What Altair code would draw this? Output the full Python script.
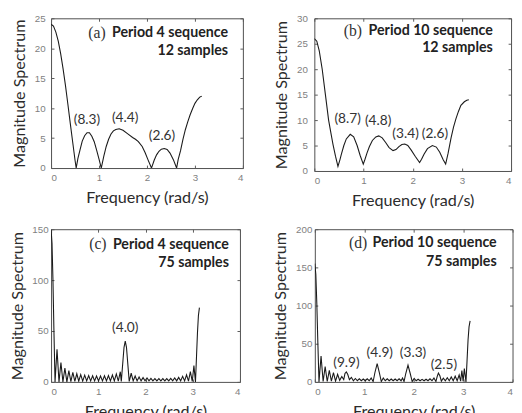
import altair as alt
import pandas as pd

# ---------------- data ----------------
x_ticks = [0, 1, 2, 3, 4]

# (a) Period 4 sequence, 12 samples
a_freq = [0, 0.05, 0.1, 0.15, 0.2, 0.25, 0.3, 0.35, 0.4, 0.45, 0.5, 0.524,
          0.56, 0.6, 0.65, 0.7, 0.75, 0.8, 0.85, 0.9, 0.95, 1.0, 1.047,
          1.1, 1.15, 1.2, 1.25, 1.3, 1.35, 1.42, 1.5, 1.6, 1.7, 1.76, 1.82, 1.9, 1.96, 2.02, 2.094,
          2.15, 2.2, 2.25, 2.3, 2.36, 2.42, 2.48, 2.55, 2.618,
          2.65, 2.7, 2.75, 2.8, 2.85, 2.9, 2.95, 3.0, 3.05, 3.1, 3.1416]
a_mag = [24, 23.7, 22.7, 21.2, 19.1, 16.6, 13.8, 10.7, 7.5, 4.4, 1.3, 0,
         1.6, 2.9, 4.5, 5.4, 5.9, 5.9, 5.3, 4.4, 3.0, 1.5, 0,
         2.0, 3.6, 4.8, 5.7, 6.2, 6.45, 6.55, 6.3, 5.7, 5.1, 4.8, 4.4, 3.6, 2.6, 1.4, 0,
         1.3, 2.2, 2.8, 3.15, 3.25, 3.1, 2.5, 1.4, 0,
         1.4, 2.9, 4.8, 6.4, 7.7, 8.9, 9.9, 10.8, 11.4, 11.85, 12]
a_yticks = [0, 5, 10, 15, 20, 25]
a_ann_x = [0.749, 1.545, 2.313]
a_ann_y = [7.97, 8.38, 5.26]
a_ann = ["(8.3)", "(4.4)", "(2.6)"]

# (b) Period 10 sequence, 12 samples
b_freq = [0, 0.05, 0.1, 0.16, 0.225, 0.29, 0.34, 0.38, 0.43, 0.48,
          0.52, 0.55, 0.6, 0.65, 0.73, 0.8, 0.87, 0.93, 0.995,
          1.03, 1.07, 1.12, 1.18, 1.25, 1.31, 1.38, 1.45, 1.52, 1.6,
          1.66, 1.72, 1.78, 1.84, 1.9, 1.97, 2.05, 2.14,
          2.18, 2.23, 2.3, 2.4, 2.48, 2.55, 2.62, 2.67,
          2.72, 2.78, 2.83, 2.88, 2.93, 2.98, 3.05, 3.1, 3.1416]
b_mag = [26, 25.5, 23.6, 20, 15, 10, 7.3, 5.2, 2.9, 0.9,
         2.2, 3.3, 5.0, 6.3, 7.2, 6.7, 5.0, 3.1, 1.35,
         2.3, 3.5, 4.8, 6.0, 6.7, 6.9, 6.5, 5.6, 4.6, 4.0,
         4.2, 4.8, 5.2, 5.3, 5.0, 4.1, 2.9, 1.67,
         2.3, 3.3, 4.4, 5.0, 4.7, 3.7, 2.2, 1.35,
         3.5, 6.5, 8.6, 10.3, 11.7, 12.9, 13.6, 13.9, 14.0]
b_yticks = [0, 5, 10, 15, 20, 25, 30]
b_ann_x = [0.677, 1.297, 1.855, 2.452]
b_ann_y = [10.15, 9.85, 7.27, 7.27]
b_ann = ["(8.7)", "(4.8)", "(3.4)", "(2.6)"]

# (c) Period 4 sequence, 75 samples
c_freq = [0.000, 0.020, 0.040, 0.060, 0.084, 0.126, 0.168, 0.209, 0.251, 0.293,
          0.335, 0.377, 0.419, 0.461, 0.503, 0.545, 0.586, 0.628, 0.670, 0.712,
          0.754, 0.796, 0.838, 0.880, 0.922, 0.963, 1.005, 1.047, 1.089, 1.131,
          1.173, 1.215, 1.257, 1.299, 1.340, 1.382, 1.424, 1.466, 1.487, 1.521,
          1.545, 1.571, 1.597, 1.621, 1.655, 1.697, 1.739, 1.781, 1.822, 1.864,
          1.906, 1.948, 1.990, 2.032, 2.074, 2.115, 2.157, 2.199, 2.241, 2.283,
          2.325, 2.367, 2.409, 2.450, 2.492, 2.534, 2.576, 2.618, 2.660, 2.702,
          2.744, 2.786, 2.828, 2.869, 2.910, 2.950, 2.990, 3.025, 3.058, 3.080,
          3.100, 3.120, 3.1416]
c_mag = [150, 136, 100, 52, 0, 32, 0, 19, 0, 13.5,
         0, 11, 0.3, 9.3, 0.5, 8, 0.7, 7.2, 0.8, 6.6,
         1, 6.2, 1, 6, 1, 5.8, 1, 5.8, 1, 6,
         1, 6.3, 1, 6.8, 1, 7.8, 0.8, 10, 0.5, 20,
         34, 40, 34, 20, 0.5, 8.5, 1, 5.8, 1, 4.8,
         1, 4.2, 1, 3.8, 1, 3.5, 1, 3.3, 1, 3.2,
         1, 3.2, 1, 3.3, 1, 3.5, 1, 3.9, 1, 4.4,
         1, 5.5, 1, 7, 0.8, 10, 0.5, 16, 0, 25,
         48, 65, 73]
c_yticks = [0, 50, 100, 150]
c_ann_x = [1.571]
c_ann_y = [52.6]
c_ann = ["(4.0)"]

# (d) Period 10 sequence, 75 samples
d_freq = [0.000, 0.020, 0.040, 0.060, 0.084, 0.126, 0.168, 0.209, 0.251, 0.293,
          0.335, 0.377, 0.419, 0.461, 0.503, 0.545, 0.585, 0.610, 0.637, 0.665,
          0.700, 0.740, 0.780, 0.820, 0.860, 0.900, 0.940, 0.980, 1.020, 1.060,
          1.100, 1.140, 1.180, 1.215, 1.261, 1.305, 1.345, 1.385, 1.425, 1.465,
          1.505, 1.545, 1.585, 1.625, 1.665, 1.705, 1.745, 1.775, 1.805, 1.840,
          1.885, 1.930, 1.970, 2.010, 2.050, 2.090, 2.130, 2.170, 2.210, 2.250,
          2.290, 2.330, 2.370, 2.410, 2.450, 2.475, 2.500, 2.530, 2.560, 2.600,
          2.640, 2.680, 2.720, 2.760, 2.800, 2.840, 2.880, 2.920, 2.950, 2.975,
          3.000, 3.025, 3.058, 3.080, 3.100, 3.120, 3.1416]
d_mag = [155, 141, 103, 54, 0, 34, 0.5, 20, 0.5, 15,
         1, 12, 1, 10, 2, 7, 3, 11, 13, 10,
         3, 6, 1.5, 4.5, 1.5, 4, 1.5, 3.8, 1.5, 4,
         1.5, 5, 0.5, 12, 24, 12, 0.5, 5, 1.5, 4,
         1.5, 3.8, 1.5, 3.8, 1.5, 4, 1.5, 5, 0.5, 11,
         22, 11, 0.5, 4.5, 1.5, 3.5, 1.5, 3.3, 1.5, 3.5,
         1.5, 4, 1.5, 5, 0.5, 7, 11.5, 8, 1, 5,
         1.5, 5.5, 1.5, 6.5, 1.5, 7.5, 1.5, 9, 1, 15,
         1, 17.5, 0, 28, 55, 72, 80]
d_yticks = [0, 50, 100, 150, 200]
d_ann_x = [0.640, 1.314, 1.987, 2.611]
d_ann_y = [24.1, 38.0, 38.0, 22.0]
d_ann = ["(9.9)", "(4.9)", "(3.3)", "(2.5)"]

# panel headings
letters = ["(a)", "(b)", "(c)", "(d)"]
line1 = ["Period 4 sequence", "Period 10 sequence", "Period 4 sequence", "Period 10 sequence"]
line2 = ["12 samples", "12 samples", "75 samples", "75 samples"]
letter_x = [0.776, 0.597, 0.808, 0.69]
right_x = [3.69, 3.628, 3.766, 3.679]
head_y1 = [22.55, 27.5, 134.9, 181.2]
head_y2 = [19.6, 24.1, 116.6, 156.4]

TICK = "#5a5a5a"


def make_panel(i, freq, mag, yticks, ax, ay, at, w, h, ylabpad):
    xs = alt.Scale(domain=[0, 4], nice=False, zero=False)
    ys = alt.Scale(domain=[0, yticks[-1]], nice=False, zero=False)
    df = pd.DataFrame({"f": freq, "m": mag})

    # labelled axes (no ticks)
    X = alt.X("f:Q", scale=xs, axis=alt.Axis(orient="bottom", title="Frequency (rad/s)",
                                             values=x_ticks, format="d"))
    Y = alt.Y("m:Q", scale=ys, axis=alt.Axis(orient="left", title="Magnitude Spectrum",
                                             values=yticks, format="d", labelPadding=ylabpad))
    line = alt.Chart(df).mark_line(color="#1a1a1a", strokeWidth=1.1, clip=True).encode(x=X, y=Y)

    # inward tick marks on all four sides
    def tick_axis(orient, vals):
        return alt.Axis(orient=orient, values=vals, labels=False, title=None, domain=False,
                        ticks=True, tickSize=3, offset=-3, tickColor=TICK, tickWidth=1)

    t1 = alt.Chart(df).mark_line(strokeOpacity=0).encode(
        x=alt.X("f:Q", scale=xs, axis=tick_axis("top", x_ticks)),
        y=alt.Y("m:Q", scale=ys, axis=tick_axis("right", yticks)))
    t2 = alt.Chart(df).mark_line(strokeOpacity=0).encode(
        x=alt.X("f:Q", scale=xs, axis=tick_axis("bottom", x_ticks)),
        y=alt.Y("m:Q", scale=ys, axis=tick_axis("left", yticks)))

    Xn = alt.X("f:Q", scale=xs, axis=None)
    Yn = alt.Y("m:Q", scale=ys, axis=None)
    ann = alt.Chart(pd.DataFrame({"f": ax, "m": ay, "t": at})).mark_text(
        font="Lato", fontSize=14, color="#333333").encode(x=Xn, y=Yn, text="t:N")
    let = alt.Chart(pd.DataFrame({"f": [letter_x[i]], "m": [head_y1[i]], "t": [letters[i]]})).mark_text(
        font="Liberation Serif", fontSize=16, align="left", color="#333333").encode(x=Xn, y=Yn, text="t:N")
    head = alt.Chart(pd.DataFrame({"f": [right_x[i], right_x[i]], "m": [head_y1[i], head_y2[i]],
                                   "t": [line1[i], line2[i]]})).mark_text(
        font="Lato", fontSize=14.5, fontWeight="bold", align="right", color="#222222").encode(x=Xn, y=Yn, text="t:N")
    return alt.layer(line, t1, t2, ann, let, head).resolve_axis(
        x="independent", y="independent").properties(width=w, height=h)


pa = make_panel(0, a_freq, a_mag, a_yticks, a_ann_x, a_ann_y, a_ann, 196, 153, 6)
pb = make_panel(1, b_freq, b_mag, b_yticks, b_ann_x, b_ann_y, b_ann, 201, 156, 7)
pc = make_panel(2, c_freq, c_mag, c_yticks, c_ann_x, c_ann_y, c_ann, 193, 156, 3)
pd_ = make_panel(3, d_freq, d_mag, d_yticks, d_ann_x, d_ann_y, d_ann, 202, 156, 3)

chart = alt.vconcat(
    alt.hconcat(pa, pb, spacing=30),
    alt.hconcat(pc, pd_, spacing=31.5),
    spacing=14.5,
).properties(
    padding={"left": 0, "top": 0, "right": 0, "bottom": 0}, background="white"
).configure_axis(
    domain=False, ticks=False, tickSize=0, grid=False,
    labelFont="Liberation Sans", labelFontSize=10, labelColor="#7f7f7f", labelPadding=5,
    titleFont="Lato", titleFontSize=16.5, titleFontWeight="normal", titleColor="#2b2b2b", titlePadding=7,
).configure_view(stroke="#4d4d4d", strokeWidth=1)

chart.save("out.html", embed_options={"renderer": "svg", "actions": False})
